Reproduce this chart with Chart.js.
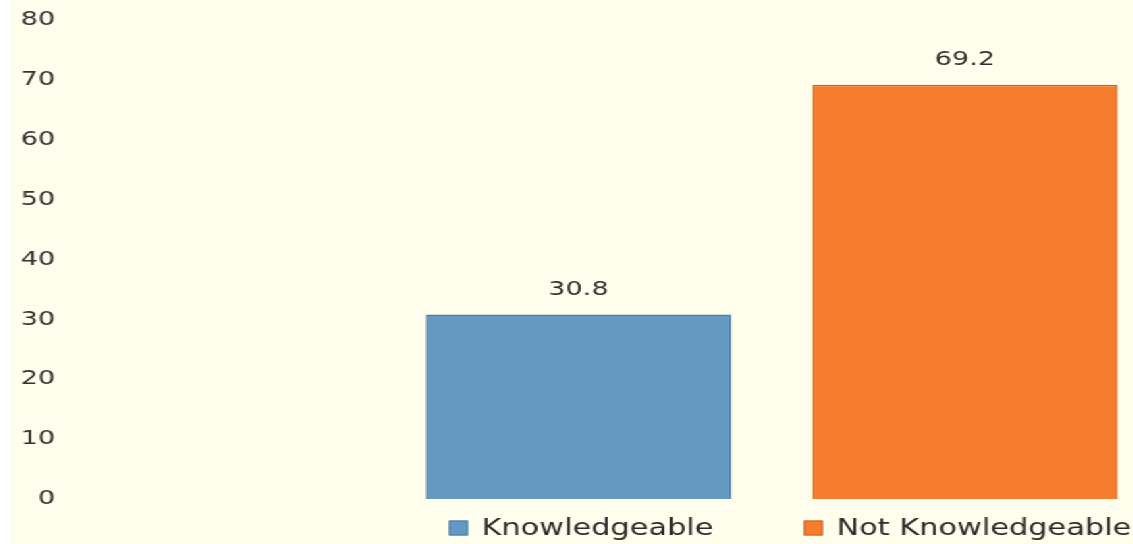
<!DOCTYPE html>
<html>
<head>
<meta charset="utf-8">
<script src="https://cdn.jsdelivr.net/npm/chart.js@4.4.1/dist/chart.umd.min.js"></script>
<style>
  html, body { margin: 0; padding: 0; background: #ffffff; }
  /* the original picture is stretched sideways, so the chart is drawn narrow and widened */
  #wrap {
    position: absolute; left: 11px; top: 0;
    width: 831px; height: 544px;
    background: #FFFDEB;
    transform: scaleX(1.35); transform-origin: 0 0;
  }
  canvas { display: block; }
</style>
</head>
<body>
<div id="wrap"><canvas id="chart" width="831" height="544"></canvas></div>
<script>
// data
const categories = ['Knowledgeable', 'Not Knowledgeable'];
const values = [30.8, 69.2];
const barColors = ['#6499C1', '#F77C2E'];
const borderColors = ['#4C7DA6', '#CC6520'];
const yTicks = [0, 10, 20, 30, 40, 50, 60, 70, 80];

Chart.defaults.font.family = '"DejaVu Sans"';

// value written above each bar
const valueLabels = {
  id: 'valueLabels',
  afterDatasetsDraw(chart) {
    const ctx = chart.ctx;
    ctx.save();
    ctx.font = '20px "DejaVu Sans"';
    ctx.fillStyle = '#2f2f2f';
    ctx.textAlign = 'center';
    ctx.textBaseline = 'middle';
    chart.data.datasets.forEach((ds, i) => {
      chart.getDatasetMeta(i).data.forEach((bar, j) => {
        ctx.fillText(ds.data[j].toFixed(1), bar.x, bar.y - 25);
      });
    });
    ctx.restore();
  }
};

// legend items sit centred under their own bar
const barLegend = {
  id: 'barLegend',
  afterDraw(chart) {
    const ctx = chart.ctx;
    const y = chart.chartArea.bottom + 29;
    ctx.save();
    ctx.font = '22.5px "DejaVu Sans"';
    ctx.textBaseline = 'middle';
    ctx.textAlign = 'left';
    chart.data.datasets.forEach((ds, i) => {
      const bar = chart.getDatasetMeta(i).data[0];
      const tw = ctx.measureText(ds.label).width;
      const w = 14 + 10 + tw;
      const x0 = bar.x - w / 2 + 2;
      ctx.fillStyle = ds.backgroundColor;
      ctx.fillRect(x0, y - 7.5, 14, 15);
      ctx.strokeStyle = ds.borderColor;
      ctx.lineWidth = 1;
      ctx.strokeRect(x0 + 0.5, y - 7, 13, 14);
      ctx.fillStyle = '#2b2b2b';
      ctx.fillText(ds.label, x0 + 24, y + 1);
    });
    ctx.restore();
  }
};

new Chart(document.getElementById('chart'), {
  type: 'bar',
  data: {
    labels: [''],
    datasets: categories.map((name, i) => ({
      label: name,
      data: [values[i]],
      backgroundColor: barColors[i],
      borderColor: borderColors[i],
      borderWidth: 1.5,
      categoryPercentage: 1.07,
      barPercentage: 0.79
    }))
  },
  options: {
    responsive: false,
    devicePixelRatio: 1,
    animation: false,
    layout: { padding: { top: 20, bottom: 45, left: 0, right: 0 } },
    plugins: {
      legend: { display: false },
      tooltip: { enabled: false }
    },
    scales: {
      x: {
        display: false,
        grid: { display: false }
      },
      y: {
        min: 0,
        max: 80,
        weight: 1,
        afterBuildTicks: (scale) => { scale.ticks = yTicks.map(v => ({ value: v })); },
        afterFit: (scale) => { scale.width = 35.6; },
        grid: { display: false, drawTicks: false },
        border: { display: false },
        ticks: {
          padding: 3,
          color: '#333333',
          font: { size: 20 }
        }
      },
      // empty strip between the tick labels and the bars
      gap: {
        type: 'linear',
        position: 'left',
        weight: 0,
        afterFit: (scale) => { scale.width = 260.4; },
        grid: { display: false, drawTicks: false },
        border: { display: false },
        ticks: { display: false }
      }
    }
  },
  plugins: [valueLabels, barLegend]
});
</script>
</body>
</html>
